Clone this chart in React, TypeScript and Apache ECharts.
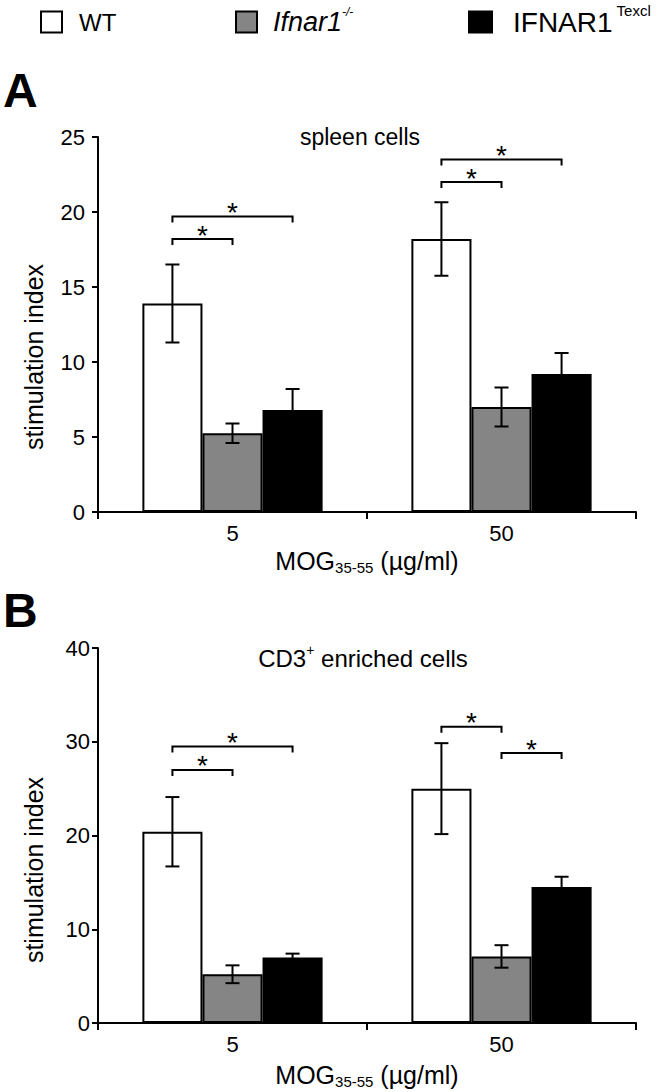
import React, { useEffect, useRef } from 'react';
import * as echarts from 'echarts';

const FONT = "'Liberation Sans', Arial, Helvetica, sans-serif";

const doses = ['5', '50'];
const groupNames = ['WT', 'Ifnar1-/-', 'IFNAR1Texcl'];
const groupColors = ['#ffffff', '#858585', '#000000'];

// Panel A: spleen cells
const spleenWT = [13.9, 18.2];
const spleenWTErr = [2.6, 2.45];
const spleenKO = [5.25, 7.0];
const spleenKOErr = [0.65, 1.3];
const spleenTex = [6.8, 9.2];
const spleenTexErr = [1.4, 1.4];
// [dose index, from group, to group, height]
const spleenBrackets = [
  [0, 0, 1, 18.2],
  [0, 0, 2, 19.7],
  [1, 0, 1, 22.0],
  [1, 0, 2, 23.5],
];

// Panel B: CD3+ enriched cells
const cd3WT = [20.4, 25.0];
const cd3WTErr = [3.7, 4.85];
const cd3KO = [5.2, 7.1];
const cd3KOErr = [0.95, 1.2];
const cd3Tex = [7.0, 14.5];
const cd3TexErr = [0.4, 1.1];
const cd3Brackets = [
  [0, 0, 1, 27.0],
  [0, 0, 2, 29.5],
  [1, 0, 1, 31.6],
  [1, 1, 2, 28.8],
];

const BAR_GAP_RATIO = 0.33;

function barWidthOf(api: any) {
  const cw = api.size([1, 0])[0];
  return (cw * (1 - BAR_GAP_RATIO)) / 3;
}

function errorData(vals: number[][], errs: number[][]) {
  const out: number[][] = [];
  vals.forEach((arr, s) => {
    arr.forEach((v, c) => {
      out.push([c, v, errs[s][c], s]);
    });
  });
  return out;
}

function errorRender(params: any, api: any) {
  const c = api.value(0);
  const v = api.value(1);
  const e = api.value(2);
  const s = api.value(3);
  const bw = barWidthOf(api);
  const top = api.coord([c, v + e]);
  const bot = api.coord([c, v - e]);
  const x = top[0] + (s - 1) * bw;
  const half = 7;
  const style = { stroke: '#000', lineWidth: 2, fill: null };
  return {
    type: 'group',
    children: [
      { type: 'line', shape: { x1: x, y1: top[1], x2: x, y2: bot[1] }, style },
      { type: 'line', shape: { x1: x - half, y1: top[1], x2: x + half, y2: top[1] }, style },
      { type: 'line', shape: { x1: x - half, y1: bot[1], x2: x + half, y2: bot[1] }, style },
    ],
  };
}

function bracketRender(params: any, api: any) {
  const c = api.value(0);
  const a = api.value(1);
  const b = api.value(2);
  const h = api.value(3);
  const bw = barWidthOf(api);
  const p = api.coord([c, h]);
  const x1 = p[0] + (a - 1) * bw;
  const x2 = p[0] + (b - 1) * bw;
  const y = p[1];
  return {
    type: 'group',
    children: [
      {
        type: 'polyline',
        shape: { points: [[x1, y + 6], [x1, y], [x2, y], [x2, y + 6]] },
        style: { stroke: '#000', lineWidth: 2, fill: null },
      },
      {
        type: 'text',
        x: (x1 + x2) / 2,
        y: y - 4,
        style: {
          text: '*',
          fontSize: 28,
          fontFamily: FONT,
          fill: '#000',
          textAlign: 'center',
          textVerticalAlign: 'middle',
        },
      },
    ],
  };
}

function makeXAxis(gridIndex: number, nameGap: number) {
  return {
    type: 'category',
    gridIndex,
    data: doses,
    axisLine: { show: true, lineStyle: { color: '#000', width: 2 } },
    axisTick: { show: true, length: 7, lineStyle: { color: '#000', width: 2 } },
    axisLabel: { fontSize: 22, color: '#000', fontFamily: FONT, margin: 10 },
    name: '{m|MOG}{s|35-55}{m| (µg/ml)}',
    nameLocation: 'middle',
    nameGap,
    nameTextStyle: {
      rich: {
        m: { fontSize: 25, fontFamily: FONT, color: '#000', lineHeight: 28 },
        s: { fontSize: 15, fontFamily: FONT, color: '#000', lineHeight: 15, verticalAlign: 'bottom' },
      },
    },
  };
}

function makeYAxis(gridIndex: number, max: number, interval: number, margin: number, pad: number) {
  return {
    type: 'value',
    gridIndex,
    min: 0,
    max,
    interval,
    axisLine: { show: true, lineStyle: { color: '#000', width: 2 } },
    axisTick: { show: true, length: 6, lineStyle: { color: '#000', width: 2 } },
    splitLine: { show: false },
    axisLabel: { fontSize: 22, color: '#000', fontFamily: FONT, margin },
    name: 'stimulation index',
    nameLocation: 'middle',
    nameRotate: 90,
    nameGap: 52,
    nameTextStyle: { fontSize: 25, color: '#000', fontFamily: FONT, padding: [0, pad, 0, 0] },
  };
}

function barSeries(name: string, data: number[], idx: number, color: string) {
  return {
    type: 'bar',
    name,
    xAxisIndex: idx,
    yAxisIndex: idx,
    data,
    barGap: '0%',
    barCategoryGap: '33%',
    itemStyle: { color, borderColor: '#000', borderWidth: 2 },
    z: 2,
  };
}

function legendOf(name: string, left: number, top: number, size: number, formatter: string, rich: any) {
  return {
    data: [name],
    left,
    top,
    icon: 'rect',
    itemWidth: size,
    itemHeight: 21,
    selectedMode: false,
    padding: 0,
    itemStyle: { borderColor: '#000', borderWidth: 2 },
    formatter: () => formatter,
    textStyle: { rich },
  };
}

export default function App() {
  const ref = useRef<HTMLDivElement>(null);
  useEffect(() => {
    if (!ref.current) return;
    const chart = echarts.init(ref.current, undefined, { renderer: 'svg' });
    const option: any = {
      animation: false,
      backgroundColor: '#ffffff',
      textStyle: { fontFamily: FONT },
      legend: [
        legendOf(groupNames[0], 40, 10, 21, '{a|WT}', {
          a: { fontSize: 24, fontFamily: FONT, color: '#000', padding: [0, 0, 0, 12], lineHeight: 24 },
        }),
        legendOf(groupNames[1], 235, 6, 21, '{a|Ifnar1}{s|-/-}', {
          a: { fontSize: 27, fontStyle: 'italic', fontFamily: FONT, color: '#000', padding: [0, 0, 0, 11], lineHeight: 32 },
          s: { fontSize: 12, fontStyle: 'italic', fontFamily: FONT, color: '#000', verticalAlign: 'top', lineHeight: 14 },
        }),
        legendOf(groupNames[2], 468, 3, 23, '{a|IFNAR1}{s|Texcl}', {
          a: { fontSize: 28, fontFamily: FONT, color: '#000', padding: [0, 0, 0, 16], lineHeight: 38 },
          s: { fontSize: 15, fontFamily: FONT, color: '#000', verticalAlign: 'top', lineHeight: 16, padding: [0, 0, 0, 4] },
        }),
      ],
      graphic: [
        {
          type: 'text', x: 3, y: 90,
          style: { text: 'A', fontSize: 48, fontWeight: 'bold', fontFamily: FONT, fill: '#000', textVerticalAlign: 'middle' },
        },
        {
          type: 'text', x: 3, y: 610,
          style: { text: 'B', fontSize: 48, fontWeight: 'bold', fontFamily: FONT, fill: '#000', textVerticalAlign: 'middle' },
        },
        {
          type: 'text', x: 360, y: 137,
          style: { text: 'spleen cells', fontSize: 23, fontFamily: FONT, fill: '#000', textAlign: 'center', textVerticalAlign: 'middle' },
        },
        {
          type: 'text', x: 363, y: 658,
          style: {
            text: '{n|CD3}{s|+}{n| enriched cells}',
            textAlign: 'center',
            textVerticalAlign: 'middle',
            rich: {
              n: { fontSize: 24, fontFamily: FONT, fill: '#000', lineHeight: 30 },
              s: { fontSize: 14, fontFamily: FONT, fill: '#000', verticalAlign: 'top', lineHeight: 14 },
            },
          },
        },
      ],
      grid: [
        { left: 98, top: 137, width: 538, height: 375 },
        { left: 98, top: 648, width: 538, height: 375 },
      ],
      xAxis: [makeXAxis(0, 35), makeXAxis(1, 38)],
      yAxis: [makeYAxis(0, 25, 5, 13, 65), makeYAxis(1, 40, 10, 8, 69)],
      series: [
        barSeries(groupNames[0], spleenWT, 0, groupColors[0]),
        barSeries(groupNames[1], spleenKO, 0, groupColors[1]),
        barSeries(groupNames[2], spleenTex, 0, groupColors[2]),
        barSeries(groupNames[0], cd3WT, 1, groupColors[0]),
        barSeries(groupNames[1], cd3KO, 1, groupColors[1]),
        barSeries(groupNames[2], cd3Tex, 1, groupColors[2]),
        {
          type: 'custom',
          name: 'errA',
          xAxisIndex: 0,
          yAxisIndex: 0,
          z: 5,
          data: errorData([spleenWT, spleenKO, spleenTex], [spleenWTErr, spleenKOErr, spleenTexErr]),
          encode: { x: 0, y: 1 },
          renderItem: errorRender,
        },
        {
          type: 'custom',
          name: 'errB',
          xAxisIndex: 1,
          yAxisIndex: 1,
          z: 5,
          data: errorData([cd3WT, cd3KO, cd3Tex], [cd3WTErr, cd3KOErr, cd3TexErr]),
          encode: { x: 0, y: 1 },
          renderItem: errorRender,
        },
        {
          type: 'custom',
          name: 'sigA',
          xAxisIndex: 0,
          yAxisIndex: 0,
          z: 5,
          data: spleenBrackets,
          encode: { x: 0, y: 3 },
          renderItem: bracketRender,
        },
        {
          type: 'custom',
          name: 'sigB',
          xAxisIndex: 1,
          yAxisIndex: 1,
          z: 5,
          data: cd3Brackets,
          encode: { x: 0, y: 3 },
          renderItem: bracketRender,
        },
      ],
    };
    chart.setOption(option);
    return () => chart.dispose();
  }, []);
  return (
    <div
      ref={ref}
      style={{ position: 'absolute', left: 0, top: 0, width: 660, height: 1092, background: '#fff' }}
    />
  );
}
